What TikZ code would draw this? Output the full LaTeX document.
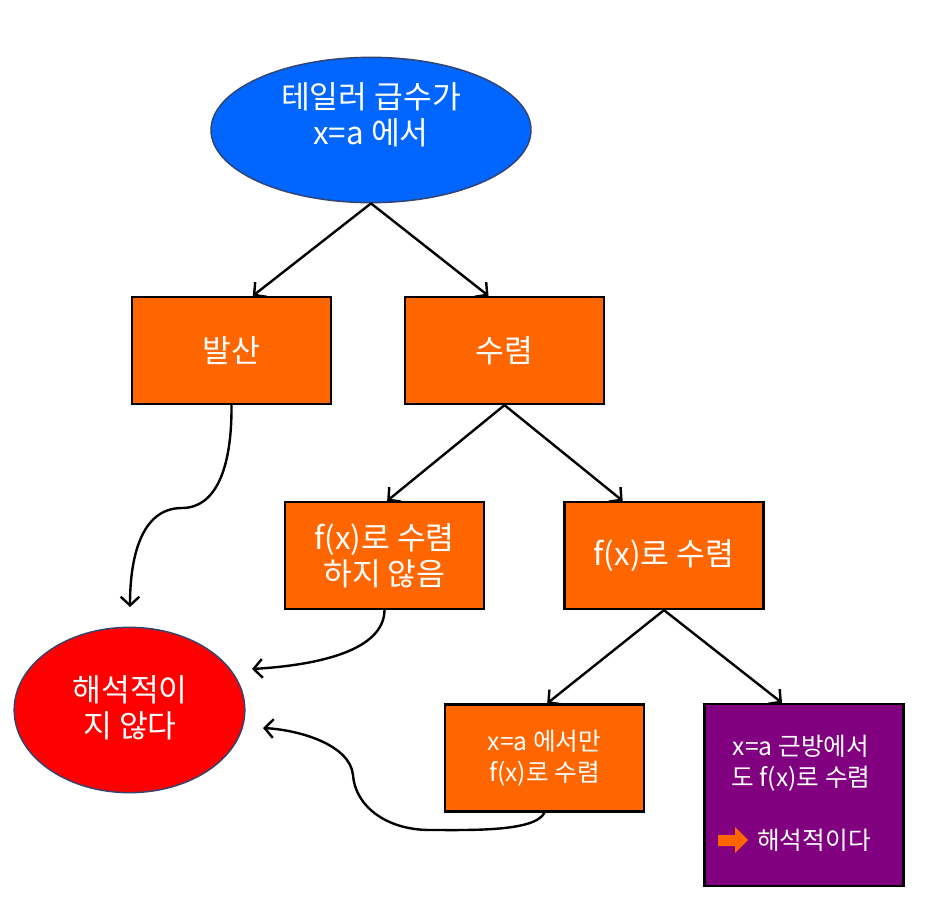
\documentclass[tikz,border=0pt]{standalone}
\usepackage{fontspec}
\setmainfont{Noto Sans CJK KR}
\usetikzlibrary{arrows.meta,shapes.geometric}
\definecolor{orgc}{HTML}{FF6600}
\definecolor{purc}{HTML}{800080}
\definecolor{bluc}{HTML}{0066FF}
\definecolor{redc}{HTML}{FF0000}
\definecolor{edgec}{HTML}{34446E}
\begin{document}
\begin{tikzpicture}[x=0.75pt,y=-0.75pt,
  ellbox/.style={ellipse, draw=edgec, line width=1.1pt, inner sep=0pt},
  recbox/.style={rectangle, draw=black, line width=1.7pt, fill=orgc, inner sep=0pt,
    minimum width=149.25pt, minimum height=80.25pt, text=white, align=center,
    font=\fontsize{23.5}{27}\selectfont},
  bigtxt/.style={text=white, align=center, inner sep=0pt, font=\fontsize{23.5}{27}\selectfont},
  smalltxt/.style={text=white, align=center, inner sep=0pt, font=\fontsize{18.5}{23.5}\selectfont},
  arr/.style={draw=black, line width=1.8pt, -{Straight Barb[length=6.5pt,width=14pt,line width=1.8pt]}}]
\useasboundingbox (0,0) rectangle (932,909);
% nodes
\node[ellbox, fill=bluc, minimum width=240pt, minimum height=109pt] (top) at (371,130) {};
\node[bigtxt] (toptxt) at (371,115) {테일러 급수가\\x=a 에서};
\node[recbox] (b1) at (231.5,350.5) {발산};
\node[recbox] (b2) at (504.5,350.5) {수렴};
\node[recbox] (b3) at (384.5,555.5) {f(x)로 수렴\\하지 않음};
\node[recbox] (b4) at (664,555.5) {f(x)로 수렴};
\node[recbox, font=\fontsize{18.5}{23.5}\selectfont] (b5) at (544.5,758) {x=a 에서만\\f(x)로 수렴};
\node[recbox, fill=purc, minimum height=136.5pt] (b6) at (804,795) {};
\node[smalltxt] (b6txt) at (801,763) {x=a 근방에서\\도 f(x)로 수렴};
\node[smalltxt, anchor=west] (b6res) at (757,840) {해석적이다};
\node[ellbox, fill=redc, minimum width=173pt, minimum height=124pt] (red) at (129.5,710) {};
\node[bigtxt] (redtxt) at (130,708) {해석적이\\지 않다};
% small orange arrow
\fill[orgc] (718,835) -- (735,835) -- (735,827) -- (748,840) -- (735,853) -- (735,846) -- (718,846) -- cycle;
% free ends
\coordinate (e1) at (130,607);
\coordinate (e2) at (252,669);
\coordinate (e3) at (263,728);
% connectors
\draw[arr] (top.south) -- ([xshift=16pt]b1.north);
\draw[arr] (top.south) -- ([xshift=-12pt]b2.north);
\draw[arr] (b2.south) -- ([xshift=2pt]b3.north);
\draw[arr] (b2.south) -- ([xshift=-31pt]b4.north);
\draw[arr] (b4.south) -- ([xshift=2pt]b5.north);
\draw[arr] (b4.south) -- ([xshift=-16.5pt]b6.north);
\draw[arr] (b1.south) .. controls (232,470) and (215,508) .. (182,508) .. controls (140,508) and (130,560) .. (e1);
\draw[arr] (b3.south) .. controls (384,650) and (320,665) .. (e2);
\draw[arr] (b5.south) .. controls (535,832) and (470,830) .. (430,830) .. controls (385,830) and (355,805) .. (353,775) .. controls (350,745) and (300,730) .. (e3);
\end{tikzpicture}
\end{document}
